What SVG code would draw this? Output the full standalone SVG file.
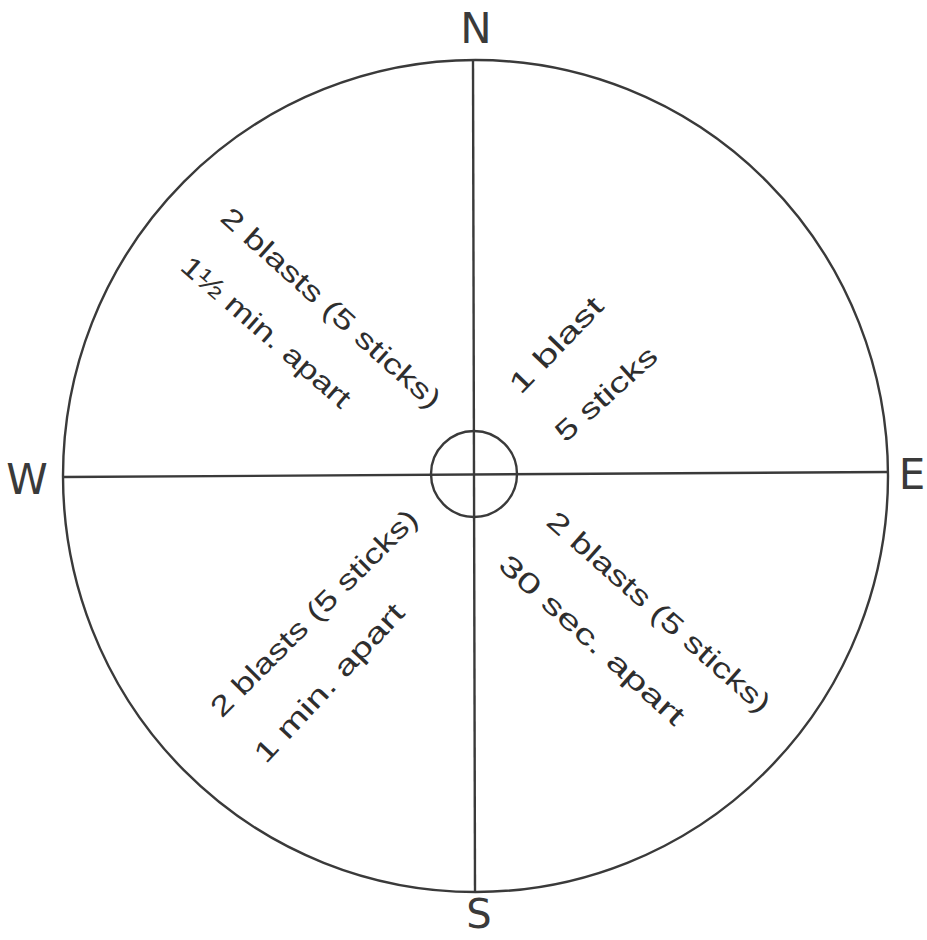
<svg xmlns="http://www.w3.org/2000/svg" width="927" height="940" viewBox="0 0 927 940">
<style>
.line{fill:none;stroke:#3a3a3a;stroke-width:2.4}
.dir{font-family:"DejaVu Sans","Liberation Sans",sans-serif;font-size:42px;fill:#3a3a3a;text-anchor:middle}
.hand{font-family:"Liberation Sans","DejaVu Sans",sans-serif;font-size:28px;fill:#2e2e2e;text-anchor:middle;dominant-baseline:central}
</style>
<rect width="927" height="940" fill="#ffffff"/>
<g id="compass">
<ellipse cx="475.5" cy="476" rx="412.5" ry="416" fill="#f4f4f4" class="line"/>
<circle cx="474" cy="474" r="43" class="line"/>
</g>
<g id="connectors">
<line x1="473" y1="60" x2="475" y2="892" class="line"/>
<line x1="63" y1="477" x2="888" y2="472" class="line"/>
</g>
<g id="labels">
<text class="dir" x="476" y="43">N</text>
<text class="dir" x="27" y="494">W</text>
<text class="dir" x="912" y="489">E</text>
<text class="dir" x="479" y="928" style="font-size:40px">S</text>
</g>
<g id="nw">
<text class="hand" transform="translate(331,308) rotate(42)" textLength="285" lengthAdjust="spacingAndGlyphs">2 blasts (5 sticks)</text>
<text class="hand" transform="translate(266,332) rotate(41)" textLength="215" lengthAdjust="spacingAndGlyphs">1½ min. apart</text>
</g>
<g id="ne">
<text class="hand" transform="translate(556,345) rotate(-46)" textLength="122" lengthAdjust="spacingAndGlyphs">1 blast</text>
<text class="hand" transform="translate(606,394) rotate(-42)" textLength="127" lengthAdjust="spacingAndGlyphs">5 sticks</text>
</g>
<g id="sw">
<text class="hand" transform="translate(314,613) rotate(-45)" textLength="280" lengthAdjust="spacingAndGlyphs">2 blasts (5 sticks)</text>
<text class="hand" transform="translate(329,683) rotate(-47)" textLength="206" lengthAdjust="spacingAndGlyphs">1 min. apart</text>
</g>
<g id="se">
<text class="hand" transform="translate(659,612) rotate(41.5)" textLength="288" lengthAdjust="spacingAndGlyphs">2 blasts (5 sticks)</text>
<text class="hand" transform="translate(592,640) rotate(42)" textLength="239" lengthAdjust="spacingAndGlyphs">30 sec. apart</text>
</g>
</svg>
